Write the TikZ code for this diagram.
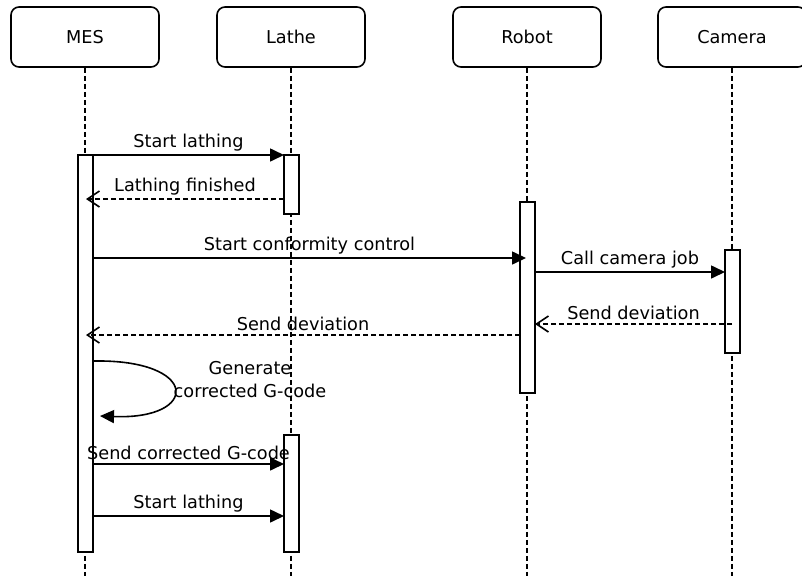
\documentclass[tikz,border=0pt]{standalone}
\usepackage{fontspec}
\setmainfont{DejaVu Sans}
\usetikzlibrary{arrows.meta}
\begin{document}
\begin{tikzpicture}[x=1pt, y=-1pt, line width=1.6pt, font=\fontsize{17.7}{23}\selectfont,
  head node/.style={rectangle,draw,rounded corners=8pt,minimum width=148pt,minimum height=60pt,inner sep=0pt},
  act node/.style={rectangle,draw,fill=white,minimum width=15pt,inner sep=0pt},
  life/.style={dash pattern=on 5pt off 3pt},
  call/.style={-{Triangle[length=14pt,width=13pt]}},
  reply/.style={dash pattern=on 5pt off 3pt,-{Straight Barb[length=12pt,width=16pt]}}]
\useasboundingbox (0,0) rectangle (802,576);
\begin{scope}
\node[head node] (mes) at (85,37) {MES};
\node[head node] (lathe) at (291,37) {Lathe};
\node[head node] (robot) at (527,37) {Robot};
\node[head node] (camera) at (732,37) {Camera};
\coordinate (mesend) at (85,576);
\coordinate (latheend) at (291,576);
\coordinate (robotend) at (527,576);
\coordinate (cameraend) at (732,576);
\end{scope}
\begin{scope}[every path/.style={life}]
\draw (mes) -- (mesend);
\draw (lathe) -- (latheend);
\draw (robot) -- (robotend);
\draw (camera) -- (cameraend);
\end{scope}
\begin{scope}
\node[act node, minimum height=397pt] (mesact) at (85.5,353.5) {};
\node[act node, minimum height=59pt] (latheacta) at (291.5,184.5) {};
\node[act node, minimum height=191pt] (robotact) at (527.5,297.5) {};
\node[act node, minimum height=103pt] (cameraact) at (732.5,301.5) {};
\node[act node, minimum height=117pt] (latheactb) at (291.5,493.5) {};
%message end points
\coordinate (m1a) at (93,155);   \coordinate (m1b) at (284,155);
\coordinate (m2a) at (284,199);  \coordinate (m2b) at (86,199);
\coordinate (m3a) at (93,258);   \coordinate (m3b) at (526,258);
\coordinate (m4a) at (535,272);  \coordinate (m4b) at (725,272);
\coordinate (m5a) at (732,324);  \coordinate (m5b) at (535,324);
\coordinate (m6a) at (520,335);  \coordinate (m6b) at (86,335);
\coordinate (m7a) at (93,361);   \coordinate (m7b) at (100,416);
\coordinate (m8a) at (93,464);   \coordinate (m8b) at (284,464);
\coordinate (m9a) at (93,516);   \coordinate (m9b) at (284,516);
\end{scope}
\begin{scope}[every node/.style={above}]
\path[call]  (m1a) edge node{Start lathing} (m1b);
\path[reply] (m2a) edge node{Lathing finished} (m2b);
\path[call]  (m3a) edge node{Start conformity control} (m3b);
\path[call]  (m4a) edge node{Call camera job} (m4b);
\path[reply] (m5a) edge node{Send deviation} (m5b);
\path[reply] (m6a) edge node{Send deviation} (m6b);
\path[call]  (m8a) edge node{Send corrected G-code} (m8b);
\path[call]  (m9a) edge node{Start lathing} (m9b);
\end{scope}
\draw[call] (m7a) .. controls (200,359) and (200,420) .. (m7b);
\node[align=center] (genlabel) at (250,380) {Generate\\corrected G-code};
\end{tikzpicture}
\end{document}
